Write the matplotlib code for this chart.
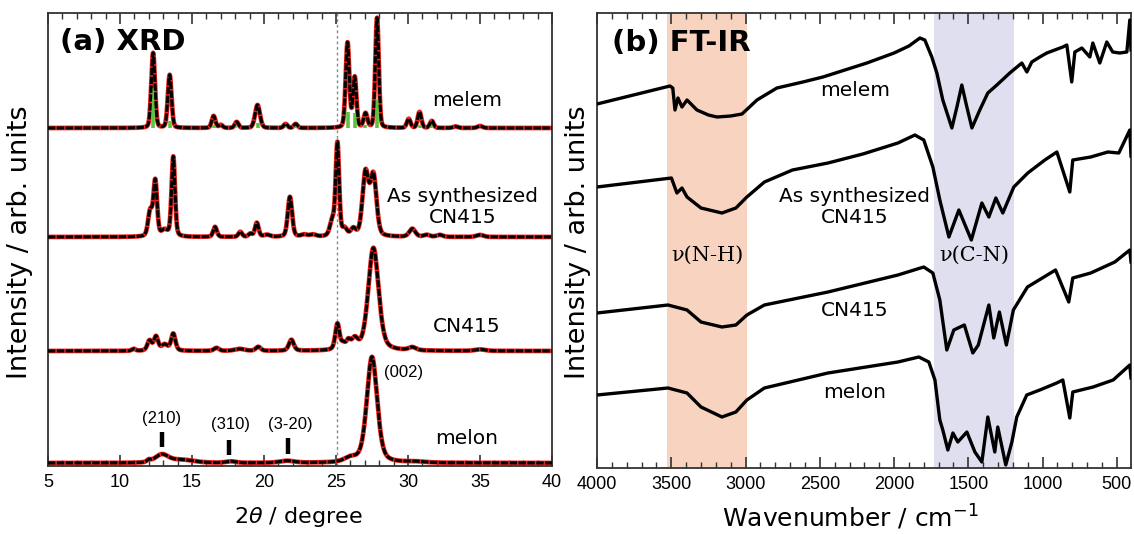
import numpy as np
import matplotlib.pyplot as plt
from matplotlib.ticker import MultipleLocator

plt.rcParams['font.family'] = ['Liberation Sans', 'Noto Sans CJK JP', 'DejaVu Sans']
plt.rcParams['mathtext.fontset'] = 'custom'
plt.rcParams['mathtext.rm'] = 'DejaVu Sans'
plt.rcParams['mathtext.it'] = 'DejaVu Sans:italic'

LABEL_FONT = ['DejaVu Sans', 'Noto Sans CJK JP']

# ---------------- XRD (peak position [deg], height, fwhm [deg]) ----------------
melem_pos = [12.3, 13.45, 16.5, 17.0, 18.1, 19.55, 21.5, 22.2, 25.8, 26.3, 27.05, 27.85,
             30.05, 30.8, 31.65, 33.3, 35.0]
melem_h = [75, 53, 12, 3, 6, 23, 4, 4, 85, 50, 14, 110, 9, 16, 7, 1.5, 2]
melem_w = [0.30, 0.30, 0.30, 0.30, 0.30, 0.40, 0.30, 0.30, 0.30, 0.28, 0.30, 0.28,
           0.30, 0.30, 0.30, 0.40, 0.40]

melem_ref_pos = [12.3, 13.45, 16.5, 18.0, 19.55, 21.2, 21.6, 22.2, 24.0, 24.5, 25.8, 26.3,
                 27.0, 27.85, 30.8, 31.6]
melem_ref_h = [40, 7, 3, 3, 5, 2, 2, 2, 1, 1, 16, 15, 3, 28, 3, 2]

assyn_pos = [12.1, 12.45, 13.1, 13.7, 16.6, 18.35, 19.05, 19.5, 20.2, 21.8, 22.8, 23.4,
             24.75, 25.1, 25.6, 26.2, 27.05, 27.6, 30.3, 31.3, 32.2, 35.0]
assyn_h = [25, 55, 6, 80, 10, 5, 3, 14, 2, 40, 2, 2, 15, 92, 7, 7, 63, 60, 8, 2, 2, 2]
assyn_w = [0.35, 0.30, 0.5, 0.28, 0.30, 0.30, 0.30, 0.30, 0.5, 0.35, 0.5, 0.5,
           0.40, 0.28, 0.40, 0.40, 0.50, 0.50, 0.5, 0.5, 0.5, 0.6]

cn415_pos = [10.95, 12.05, 12.5, 13.1, 13.7, 16.7, 18.3, 19.6, 21.9, 25.1, 25.5, 25.85,
             26.3, 27.6, 30.3, 35.0]
cn415_h = [2, 10, 14, 6, 17, 3, 2, 4, 11, 26, 5, 8, 10, 103, 3, 1.5]
cn415_w = [0.3, 0.35, 0.35, 0.5, 0.35, 0.4, 0.8, 0.4, 0.4, 0.35, 0.3, 0.35,
           0.5, 0.85, 0.6, 0.8]

melon_pos = [12.0, 12.9, 14.3, 17.7, 21.6, 26.0, 27.5, 30.5]
melon_h = [2, 8, 3, 1.5, 2, 4, 106, 1]
melon_w = [0.3, 1.1, 2.0, 0.8, 1.2, 1.0, 0.85, 1.5]

xrd_offsets = [338, 229, 115, 3]
xrd_eta = [0.2, 0.3, 0.4, 0.4]

# ---------------- FT-IR (wavenumber, signal) ----------------
ir_melem_x = [4000, 3509, 3490, 3475, 3455, 3428, 3394, 3327, 3250, 3192, 3100, 3024, 2923,
              2789, 2614, 2479, 2183, 2000, 1900, 1826, 1793, 1746, 1712, 1672, 1611, 1577,
              1544, 1510, 1476, 1423, 1369, 1308, 1221, 1140, 1106, 1073, 1019, 972, 918,
              864, 837, 804, 783, 736, 682, 662, 615, 568, 528, 481, 433, 413, 405]
ir_melem_y = [364, 382, 380, 358, 370, 361, 368, 358, 353, 351, 352, 354, 368,
              380, 386, 391, 405, 415, 422, 430, 428, 411, 395, 368, 340, 361,
              383, 361, 340, 358, 375, 383, 395, 405, 396, 406, 411, 415, 418,
              421, 423, 386, 416, 420, 411, 425, 405, 426, 416, 415, 416, 448, 418]

ir_assyn_x = [4000, 3499, 3462, 3428, 3394, 3300, 3159, 3065, 2991, 2873, 2684, 2445, 2210,
              1974, 1860, 1800, 1739, 1692, 1631, 1564, 1480, 1409, 1362, 1315, 1268, 1194,
              1100, 985, 904, 817, 797, 676, 561, 487, 413, 405]
ir_assyn_y = [281, 290, 275, 280, 271, 260, 255, 260, 271, 286, 298, 305, 314,
              325, 333, 328, 301, 268, 231, 258, 228, 265, 251, 270, 255, 281,
              295, 308, 316, 276, 308, 311, 316, 315, 338, 312]

ir_cn415_x = [4000, 3522, 3394, 3300, 3159, 3065, 2991, 2873, 2445, 1974, 1800, 1739, 1692,
              1645, 1598, 1527, 1470, 1433, 1362, 1329, 1291, 1244, 1197, 1102, 913, 824,
              797, 676, 514, 413, 405]
ir_cn415_y = [155, 163, 158, 146, 141, 143, 153, 163, 176, 193, 201, 195, 168,
              118, 138, 143, 115, 123, 163, 130, 156, 123, 158, 181, 198, 166,
              190, 195, 206, 218, 206]

ir_melon_x = [4000, 3522, 3394, 3300, 3159, 3065, 2991, 2873, 2445, 1974, 1833, 1766, 1725,
              1692, 1672, 1638, 1604, 1571, 1510, 1456, 1409, 1369, 1322, 1302, 1248, 1207,
              1174, 1107, 1019, 905, 864, 817, 797, 660, 525, 413, 405]
ir_melon_y = [73, 80, 75, 61, 51, 56, 68, 80, 95, 106, 111, 106, 88,
              48, 38, 18, 35, 26, 36, 16, 6, 51, 16, 41, 3, 26,
              51, 73, 78, 85, 88, 50, 76, 81, 88, 103, 90]

nh_band = (3530, 2990)
cn_band = (1730, 1195)


def pseudo_voigt(x, pos, h, w, eta):
    y = np.zeros_like(x)
    for c, a, f in zip(pos, h, w):
        g = np.exp(-4 * np.log(2) * ((x - c) / f) ** 2)
        l = 1 / (1 + (2 * (x - c) / f) ** 2)
        y += a * ((1 - eta) * g + eta * l)
    return y


fig = plt.figure(figsize=(11.34, 5.34), dpi=100)
ax1 = fig.add_axes([48 / 1134, 68 / 534, 504 / 1134, 453 / 534])
ax2 = fig.add_axes([597 / 1134, 66 / 534, 534 / 1134, 455 / 534])

# ---------------- panel (a) ----------------
tt = np.linspace(5, 40, 3501)
series = [(melem_pos, melem_h, melem_w), (assyn_pos, assyn_h, assyn_w),
          (cn415_pos, cn415_h, cn415_w), (melon_pos, melon_h, melon_w)]
for (pos, h, w), off, eta in zip(series, xrd_offsets, xrd_eta):
    y = off + pseudo_voigt(tt, pos, h, w, eta)
    ax1.plot(tt, y, color='#e8241c', lw=3.4, zorder=2)
    if off == xrd_offsets[0]:
        ax1.vlines(melem_ref_pos, off, off + np.array(melem_ref_h), color='#5cc43a', lw=2.6, zorder=3)
    ax1.plot(tt, y, color='black', lw=2.2, ls=(0, (2.4, 0.5)), zorder=4)

ax1.axvline(25.1, color='#888888', lw=1.0, ls=(0, (2, 2)), zorder=1)
ax1.set_xlim(5, 40)
ax1.set_ylim(0, 453)
ax1.set_yticks([])
ax1.xaxis.set_major_locator(MultipleLocator(5))
ax1.xaxis.set_minor_locator(MultipleLocator(1))

ax1.text(5.83, 424, '(a) XRD', fontsize=21, fontweight='bold', family=LABEL_FONT, va='center', ha='left')
ax1.text(34.1, 366, 'melem', fontsize=14.5, family=LABEL_FONT, ha='center', va='center')
ax1.text(33.8, 259, 'As synthesized\nCN415', fontsize=14.5, family=LABEL_FONT, ha='center', va='center',
         linespacing=1.15)
ax1.text(34.1, 139, 'CN415', fontsize=14.5, family=LABEL_FONT, ha='center', va='center')
ax1.text(34.1, 28, 'melon', fontsize=14.5, family=LABEL_FONT, ha='center', va='center')
ax1.text(29.7, 94, '(002)', fontsize=12, ha='center', va='center')

hkl_labels = ['(210)', '(310)', '(3-20)']
hkl_pos = [12.95, 17.6, 21.7]
hkl_text_x = [12.9, 17.7, 21.8]
hkl_text_y = [48, 41, 41]
hkl_bar_lo = [19, 11, 12]
hkl_bar_hi = [34, 26, 28]
ax1.vlines(hkl_pos, hkl_bar_lo, hkl_bar_hi, color='black', lw=3.2)
for lab, x, y in zip(hkl_labels, hkl_text_x, hkl_text_y):
    ax1.text(x, y, lab, fontsize=12, ha='center', va='center')

# ---------------- panel (b) ----------------
ax2.axvspan(*nh_band, color='#f8d3bf', lw=0, zorder=0)
ax2.axvspan(*cn_band, color='#dfdff0', lw=0, zorder=0)
for xs, ys in [(ir_melem_x, ir_melem_y), (ir_assyn_x, ir_assyn_y),
               (ir_cn415_x, ir_cn415_y), (ir_melon_x, ir_melon_y)]:
    ax2.plot(xs, ys, color='black', lw=2.4, zorder=3)

ax2.set_xlim(4000, 405)
ax2.set_ylim(0, 455)
ax2.set_yticks([])
ax2.xaxis.set_major_locator(MultipleLocator(500))
ax2.xaxis.set_minor_locator(MultipleLocator(100))

ax2.text(3899, 425, '(b) FT-IR', fontsize=21, fontweight='bold', family=LABEL_FONT, va='center', ha='left')
ax2.text(2265, 378, 'melem', fontsize=14.5, family=LABEL_FONT, ha='center', va='center')
ax2.text(2264, 261, 'As synthesized\nCN415', fontsize=14.5, family=LABEL_FONT, ha='center', va='center',
         linespacing=1.15)
ax2.text(2264, 158, 'CN415', fontsize=14.5, family=LABEL_FONT, ha='center', va='center')
ax2.text(2264, 76, 'melon', fontsize=14.5, family=LABEL_FONT, ha='center', va='center')
ax2.text(3260, 213, 'ν(N-H)', fontsize=15, family='DejaVu Serif', ha='center', va='center')
ax2.text(1462, 213, 'ν(C-N)', fontsize=15, family='DejaVu Serif', ha='center', va='center')

for ax in (ax1, ax2):
    for s in ax.spines.values():
        s.set_linewidth(1.3)
        s.set_color('#333333')
    ax.tick_params(axis='x', which='both', direction='in', top=True, bottom=True,
                   labelsize=13, pad=6, color='#333333')
    ax.tick_params(axis='x', which='major', length=8, width=1.2)
    ax.tick_params(axis='x', which='minor', length=4.5, width=1.0)

fig.text(20 / 1134, 1 - 242 / 534, 'Intensity / arb. units', rotation=90, fontsize=19.5,
         family=LABEL_FONT, ha='center', va='center')
fig.text(578 / 1134, 1 - 242 / 534, 'Intensity / arb. units', rotation=90, fontsize=19.5,
         family=LABEL_FONT, ha='center', va='center')
fig.text(298 / 1134, 1 - 517 / 534, r'2$\mathit{\theta}$ / degree', fontsize=16,
         family=LABEL_FONT, ha='center', va='center')
fig.text(850 / 1134, 1 - 517 / 534, r'Wavenumber / cm$^{-1}$', fontsize=18,
         family=LABEL_FONT, ha='center', va='center')

fig.savefig('out.png', dpi=100)
